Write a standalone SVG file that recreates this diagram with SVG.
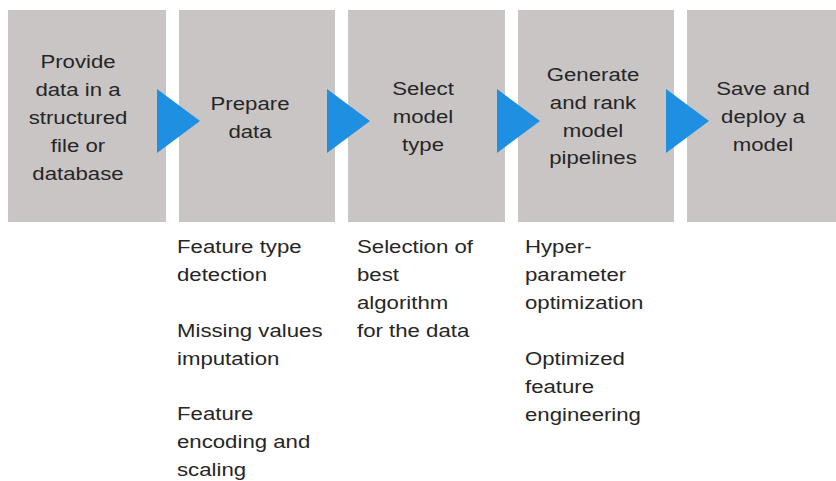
<svg xmlns="http://www.w3.org/2000/svg" width="836" height="481" viewBox="0 0 836 481">
<style>
.box{fill:#c9c5c5}
.arr{fill:#1f8fe1}
text{font-family:"Liberation Sans",Arial,sans-serif;font-size:18.5px;fill:#262626}
.c{text-anchor:middle}
</style>
<rect width="836" height="481" fill="#fff"/>
<g id="n1"><rect class="box" x="8" y="10" width="158" height="212"/>
<text class="c" transform="translate(78,0) scale(1.2,1)"><tspan x="0" y="68">Provide</tspan><tspan x="0" y="96">data in a</tspan><tspan x="0" y="124">structured</tspan><tspan x="0" y="152">file or</tspan><tspan x="0" y="180">database</tspan></text></g>
<g id="n2"><rect class="box" x="179" y="10" width="156" height="212"/>
<text class="c" transform="translate(250,0) scale(1.2,1)"><tspan x="0" y="110">Prepare</tspan><tspan x="0" y="138">data</tspan></text></g>
<g id="n3"><rect class="box" x="348" y="10" width="157" height="212"/>
<text class="c" transform="translate(423,0) scale(1.2,1)"><tspan x="0" y="95">Select</tspan><tspan x="0" y="123">model</tspan><tspan x="0" y="151">type</tspan></text></g>
<g id="n4"><rect class="box" x="518" y="10" width="156" height="212"/>
<text class="c" transform="translate(593,0) scale(1.2,1)"><tspan x="0" y="81">Generate</tspan><tspan x="0" y="109">and rank</tspan><tspan x="0" y="137">model</tspan><tspan x="0" y="164">pipelines</tspan></text></g>
<g id="n5"><rect class="box" x="687" y="10" width="149" height="212"/>
<text class="c" transform="translate(763,0) scale(1.2,1)"><tspan x="0" y="95">Save and</tspan><tspan x="0" y="123">deploy a</tspan><tspan x="0" y="151">model</tspan></text></g>
<g id="connectors">
<polygon class="arr" points="157,89 200,121 157,153"/>
<polygon class="arr" points="327,89 370,121 327,153"/>
<polygon class="arr" points="497,89 540,121 497,153"/>
<polygon class="arr" points="666,89 709,121 666,153"/>
</g>
<g id="notes2"><text transform="translate(177,0) scale(1.2,1)"><tspan x="0" y="253">Feature type</tspan><tspan x="0" y="281">detection</tspan><tspan x="0" y="337">Missing values</tspan><tspan x="0" y="365">imputation</tspan><tspan x="0" y="420">Feature</tspan><tspan x="0" y="448">encoding and</tspan><tspan x="0" y="476">scaling</tspan></text></g>
<g id="notes3"><text transform="translate(357,0) scale(1.2,1)"><tspan x="0" y="253">Selection of</tspan><tspan x="0" y="281">best</tspan><tspan x="0" y="309">algorithm</tspan><tspan x="0" y="337">for the data</tspan></text></g>
<g id="notes4"><text transform="translate(525,0) scale(1.2,1)"><tspan x="0" y="253">Hyper-</tspan><tspan x="0" y="281">parameter</tspan><tspan x="0" y="309">optimization</tspan><tspan x="0" y="365">Optimized</tspan><tspan x="0" y="393">feature</tspan><tspan x="0" y="421">engineering</tspan></text></g>
</svg>
